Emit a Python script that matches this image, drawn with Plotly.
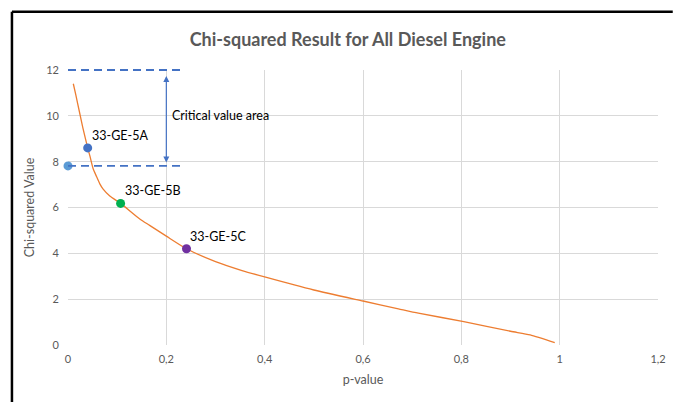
import plotly.graph_objects as go

# Curve (p-value vs chi-squared value)
curve_p = [0.0108, 0.016, 0.023, 0.030, 0.040, 0.0445, 0.051, 0.058, 0.065, 0.0715,
           0.085, 0.107, 0.146, 0.166, 0.20, 0.241, 0.30, 0.354, 0.40, 0.50,
           0.60, 0.672, 0.7126, 0.805, 0.90, 0.94, 0.99]
curve_chi = [11.4, 10.9, 10.2, 9.5, 8.6, 8.25, 7.7, 7.35, 7.02, 6.8,
             6.5, 6.18, 5.5, 5.22, 4.75, 4.2, 3.64, 3.25, 2.97, 2.4,
             1.92, 1.58, 1.39, 1.02, 0.6, 0.44, 0.1]

# Engine points
engine_names = ["33-GE-5A", "33-GE-5B", "33-GE-5C"]
engine_p = [0.040, 0.107, 0.241]
engine_chi = [8.6, 6.18, 4.2]
engine_colors = ["#4472C4", "#00B050", "#7030A0"]

# Critical value marker and area
critical_p = [0.0]
critical_chi = [7.815]
area_top = 12
area_end_p = 0.235
arrow_p = 0.2
area_label = "Critical value area"

x_max = 1.2
y_max = 12
x_ticks = [0, 0.2, 0.4, 0.6, 0.8, 1, 1.2]
y_ticks = [0, 2, 4, 6, 8, 10, 12]

fig = go.Figure()
fig.add_trace(go.Scatter(x=curve_p, y=curve_chi, mode="lines",
                         line=dict(color="#ED7D31", width=1.3, shape="spline", smoothing=0.6),
                         showlegend=False, hoverinfo="skip"))
fig.add_trace(go.Scatter(x=critical_p, y=critical_chi, mode="markers",
                         marker=dict(color="#5B9BD5", size=9), cliponaxis=False,
                         showlegend=False))
fig.add_trace(go.Scatter(x=engine_p, y=engine_chi, mode="markers",
                         marker=dict(color=engine_colors, size=9), cliponaxis=False,
                         showlegend=False))

for name, px, py in zip(engine_names, engine_p, engine_chi):
    fig.add_annotation(x=px, y=py, text=name, showarrow=False, xanchor="left",
                       yanchor="bottom", xshift=2, yshift=3,
                       font=dict(size=12.5, color="#000000"))

dash_style = dict(color="#4472C4", width=1.8, dash="8px,5px")
for yv in (area_top, critical_chi[0]):
    fig.add_shape(type="line", xref="paper", yref="paper", x0=0, x1=area_end_p / x_max,
                  y0=yv / y_max, y1=yv / y_max, line=dash_style)

fig.add_annotation(x=arrow_p, y=critical_chi[0] + 0.15, ax=arrow_p, ay=area_top - 0.2,
                   xref="x", yref="y", axref="x", ayref="y", text="",
                   showarrow=True, arrowhead=2, arrowside="end+start",
                   arrowsize=1, arrowwidth=1.2, arrowcolor="#4472C4")
fig.add_annotation(x=arrow_p, y=10, text=area_label, showarrow=False,
                   xanchor="left", xshift=4, font=dict(size=12.5, color="#000000"))

# frame (black border at left and top)
fig.add_shape(type="line", xref="paper", yref="paper", x0=-0.095, x1=-0.095,
              y0=-0.25, y1=1.212, line=dict(color="#000000", width=2.5))
fig.add_shape(type="line", xref="paper", yref="paper", x0=-0.095, x1=1.025,
              y0=1.212, y1=1.212, line=dict(color="#000000", width=2.5))

fig.update_layout(
    width=678, height=402,
    margin=dict(l=68, r=16, t=70, b=57),
    paper_bgcolor="white", plot_bgcolor="white",
    separators=", ",
    font=dict(family="Lato", color="#595959", size=11),
    title=dict(text="<b>Chi-squared Result for All Diesel Engine</b>", x=0.513, xanchor="center",
               y=0.902, yanchor="middle",
               font=dict(family="Lato", size=18, color="#595959")),
    xaxis=dict(range=[0, x_max], tickvals=x_ticks, showgrid=True, gridcolor="#D9D9D9",
               gridwidth=1, zeroline=False, showline=False, ticks="", ticklabelstandoff=6,
               title=dict(text="p-value", font=dict(size=12.5, color="#595959"), standoff=11)),
    yaxis=dict(range=[0, y_max], tickvals=y_ticks, showgrid=True, gridcolor="#D9D9D9",
               gridwidth=1, zeroline=False, showline=False, ticks="", ticklabelstandoff=8,
               title=dict(text="Chi-squared Value", font=dict(size=12.5, color="#595959"), standoff=8)),
)

fig.write_html("out.html", config={"displayModeBar": False},
               post_script="document.body.style.margin='0';")
